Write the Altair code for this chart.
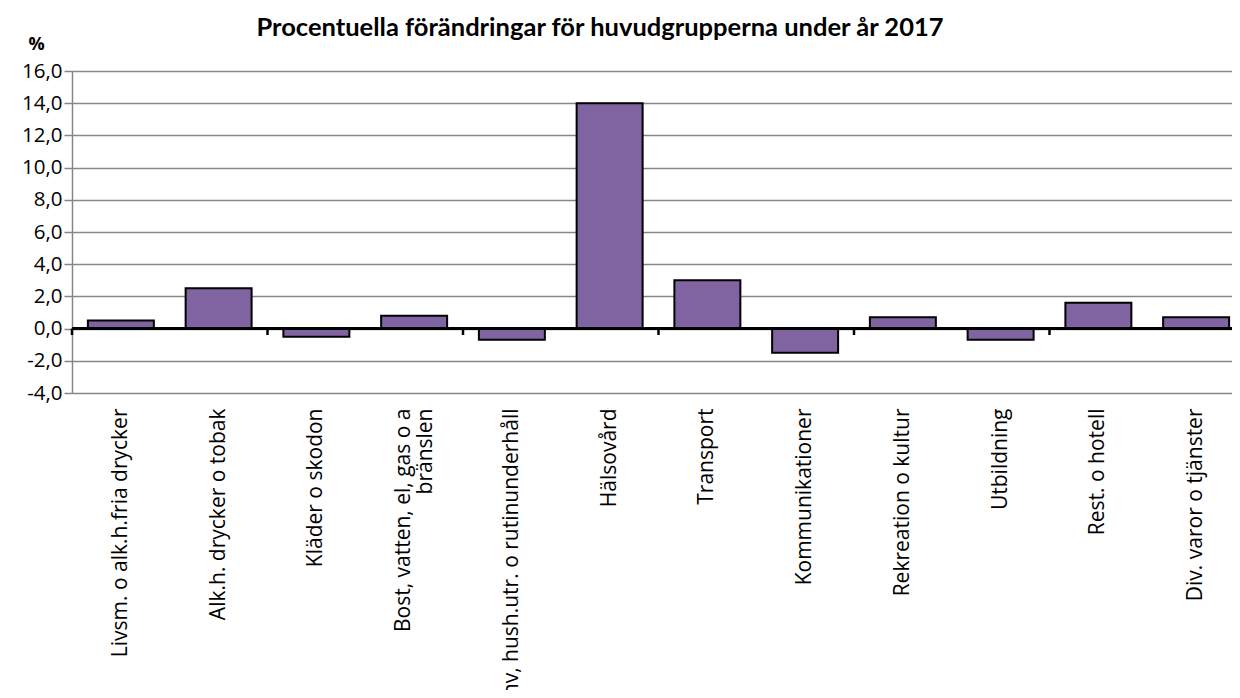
import altair as alt
import pandas as pd

# ---- data ----
categories = [
    "Livsm. o alk.h.fria drycker",
    "Alk.h. drycker o tobak",
    "Kläder o skodon",
    "Bost, vatten, el, gas o a|bränslen",
    "Inv, hush.utr. o rutinunderhåll",
    "Hälsovård",
    "Transport",
    "Kommunikationer",
    "Rekreation o kultur",
    "Utbildning",
    "Rest. o hotell",
    "Div. varor o tjänster",
]
values = [0.5, 2.5, -0.5, 0.8, -0.7, 14.0, 3.0, -1.5, 0.7, -0.7, 1.6, 0.7]
y_ticks = [-4, -2, 0, 2, 4, 6, 8, 10, 12, 14, 16]
boundary_ticks = [0, 2, 4, 6, 8, 10, 12]

title_text = "Procentuella förändringar för huvudgrupperna under år 2017"
unit_text = "%"

df = pd.DataFrame({"kategori": categories, "forandring": values})
df_ticks = pd.DataFrame({"pos": boundary_ticks})

GRID = "#868686"
BAR = "#8064A2"
FONT = "Open Sans"

PLOT_W = 1160
PLOT_H = 322
X_RANGE = [0, 1173]

y_scale = alt.Scale(domain=[-4, 16], nice=False, zero=False)

label_expr = (
    "indexof(datum.label, '|') >= 0 ? split(datum.label, '|') : datum.label"
)

y_axis = alt.Axis(
    values=y_ticks,
    tickCount=len(y_ticks),
    grid=True,
    gridColor=GRID,
    gridWidth=1.5,
    domainColor=GRID,
    domainWidth=1.5,
    tickColor=GRID,
    tickWidth=1.5,
    tickSize=8,
    labelPadding=2,
    labelFont=FONT,
    labelFontSize=20.5,
    labelColor="black",
    labelOverlap=False,
    labelExpr="(datum.value < 0 ? '-' : '') + replace(format(abs(datum.value), '.1f'), '.', ',')",
    title=unit_text,
    titleAngle=0,
    titleAlign="center",
    titleBaseline="middle",
    titleX=-36,
    titleY=-27,
    titleFont=FONT,
    titleFontSize=18,
    titleFontWeight="bold",
    titleColor="black",
)

bars = alt.Chart(df).mark_bar(
    color=BAR, stroke="black", strokeWidth=2
).encode(
    x=alt.X(
        "kategori:N",
        sort=categories,
        scale=alt.Scale(paddingInner=0.325, paddingOuter=0.1625, range=X_RANGE),
        axis=alt.Axis(
            title=None,
            domain=False,
            ticks=False,
            grid=False,
            labelAngle=270,
            labelAlign="right",
            labelBaseline="middle",
            labelPadding=15,
            labelFont=FONT,
            labelFontSize=21,
            labelColor="black",
            labelLimit=600,
            labelLineHeight=22,
            labelOverlap=False,
            labelOffset={
                "condition": {"test": "indexof(datum.label, '|') >= 0", "value": -10},
                "value": 0,
            },
            labelExpr=label_expr,
        ),
    ),
    y=alt.Y("forandring:Q", scale=y_scale, axis=y_axis),
)

zero_line = alt.Chart(df).mark_rule(color="black", strokeWidth=3).encode(
    y=alt.datum(0)
)

ticks = alt.Chart(df_ticks).mark_rule(color="black", strokeWidth=2.5).encode(
    x=alt.X("pos:Q", scale=alt.Scale(domain=[0, 12], range=X_RANGE), axis=None),
    y=alt.datum(0),
    y2=alt.datum(-0.4),
)

chart = alt.layer(bars, zero_line, ticks).resolve_scale(
    x="independent"
).properties(
    width=PLOT_W,
    height=PLOT_H,
    autosize=alt.AutoSizeParams(type="none"),
    padding={"left": 64, "top": 63, "right": 0, "bottom": 297},
    title=alt.TitleParams(
        text=title_text,
        font="Lato",
        fontSize=25.5,
        fontWeight="bold",
        color="black",
        anchor="middle",
        dx=-52,
        offset=-6,
    ),
).configure_view(strokeWidth=0).configure(background="white")

chart.save("out.html", embed_options={"renderer": "svg", "actions": False})
